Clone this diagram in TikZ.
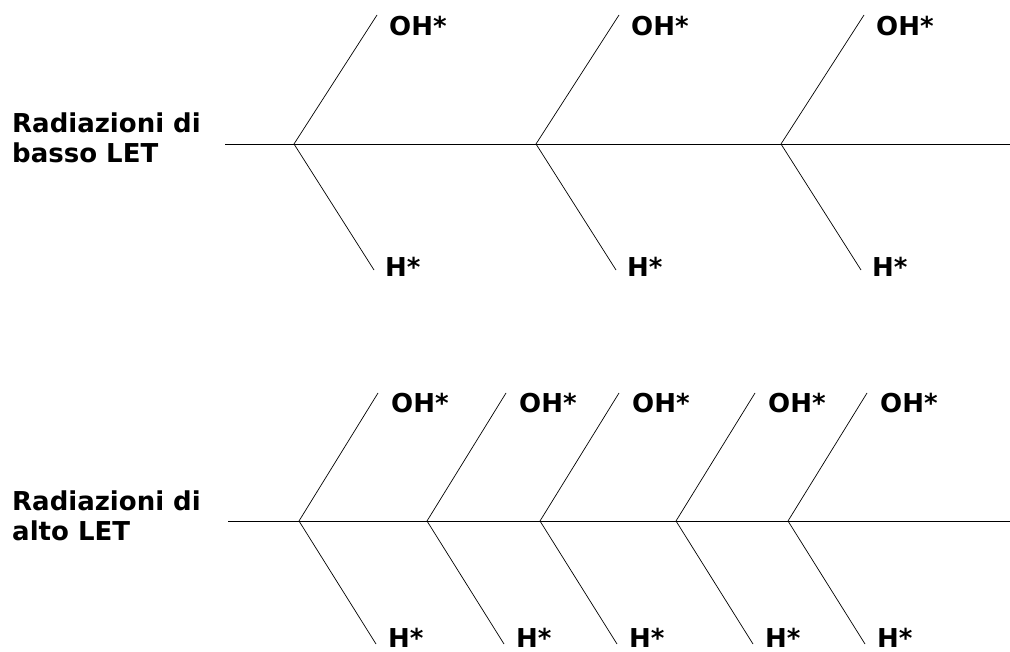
\documentclass[tikz,border=0pt]{standalone}
\usepackage{fontspec}
\setmainfont{DejaVu Sans}
\usetikzlibrary{positioning}

\tikzset{
  track/.style={black, line width=0.8pt},
  branch/.style={black, line width=0.7pt},
  radical/.style={anchor=base west, inner sep=0pt, font=\fontsize{26}{30}\selectfont\bfseries},
  beamlabel/.style={anchor=north west, align=left, inner sep=0pt, font=\fontsize{26}{30}\selectfont\bfseries}
}

\begin{document}
\begin{tikzpicture}[x=1pt,y=-1pt]
\useasboundingbox (0,0) rectangle (1010,652);
% basso LET
\node[beamlabel] (basso) at (12,113) {Radiazioni di\\basso LET};
\coordinate (bstart) at (225,144);
\coordinate (bstop) at (1010,144);
\draw[track] (bstart) -- (bstop);
\foreach \x [count=\i] in {294,536,781}{
\coordinate (bv\i) at (\x,144);
\coordinate (bu\i) at (\x+83,15);
\coordinate (bd\i) at (\x+80,270);
\draw[branch] (bu\i) -- (bv\i) -- (bd\i);
\node[radical] (boh\i) at ([shift={(12,21)}]bu\i) {OH*};
\node[radical] (bh\i) at ([shift={(11,7)}]bd\i) {H*};
}
% alto LET
\node[beamlabel] (alto) at (12,491) {Radiazioni di\\alto LET};
\coordinate (astart) at (228,521);
\coordinate (astop) at (1010,521);
\draw[track] (astart) -- (astop);
\foreach \x [count=\i] in {299,427,540,676,788}{
\coordinate (av\i) at (\x,521);
\coordinate (au\i) at (\x+79,393);
\coordinate (ad\i) at (\x+77,644);
\draw[branch] (au\i) -- (av\i) -- (ad\i);
\node[radical] (aoh\i) at ([shift={(13,20)}]au\i) {OH*};
\node[radical] (ah\i) at ([shift={(12,3)}]ad\i) {H*};
}
\end{tikzpicture}
\end{document}
